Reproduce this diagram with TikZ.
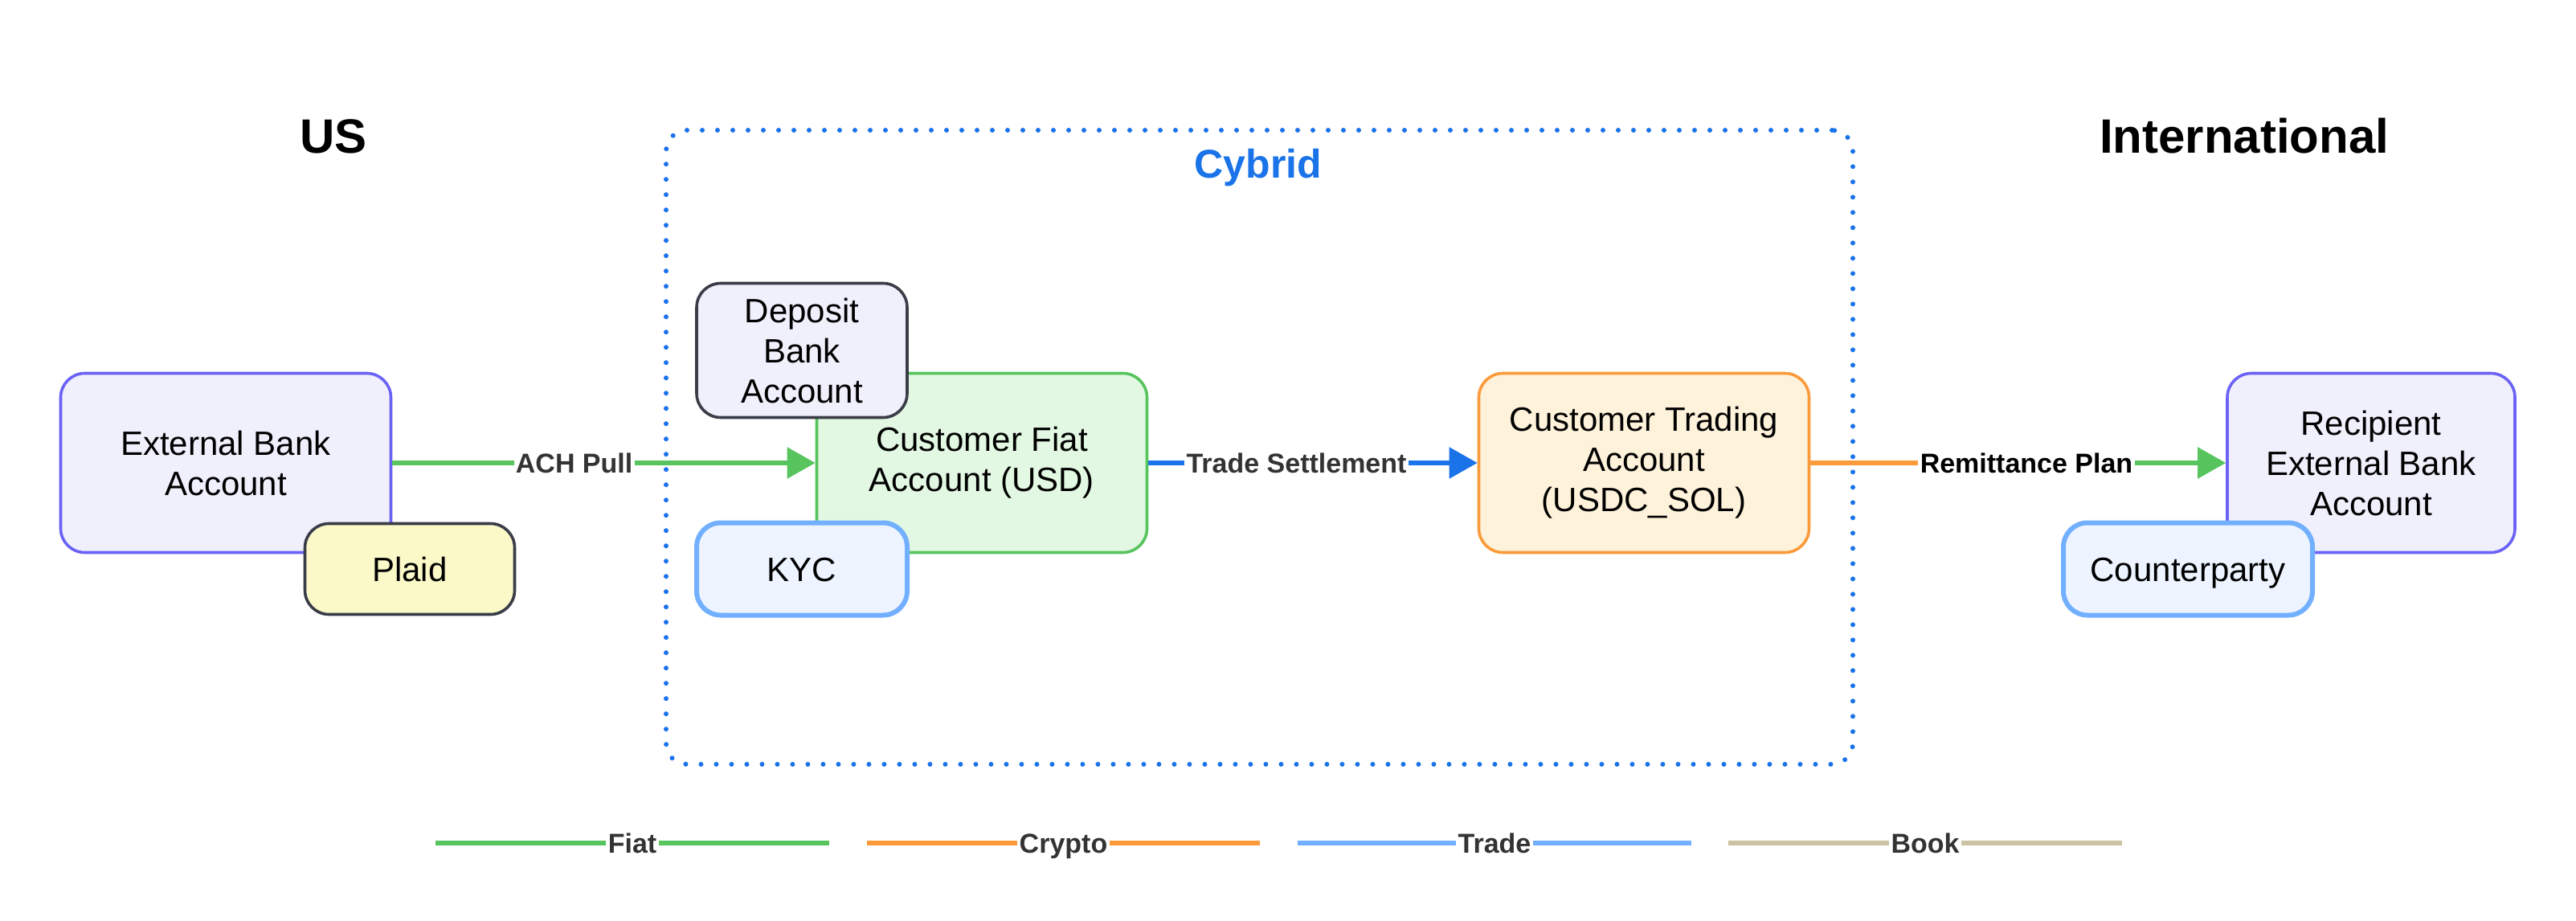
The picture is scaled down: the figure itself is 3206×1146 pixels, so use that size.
\documentclass[tikz,border=0pt]{standalone}
\usepackage{fontspec}
\setmainfont{Liberation Sans}
\usetikzlibrary{arrows.meta,calc}
\definecolor{lav}{HTML}{F0F0FD}
\definecolor{lavb}{HTML}{6B63F5}
\definecolor{dkb}{HTML}{3A3D47}
\definecolor{yel}{HTML}{FBF9C8}
\definecolor{grf}{HTML}{E2F8E2}
\definecolor{grb}{HTML}{57C45E}
\definecolor{blf}{HTML}{EDF4FF}
\definecolor{blb}{HTML}{72B0FF}
\definecolor{orf}{HTML}{FEF2DA}
\definecolor{orb}{HTML}{FB9A3A}
\definecolor{cyb}{HTML}{1A73E8}
\definecolor{bookc}{HTML}{CBC3A3}
\definecolor{lbl}{HTML}{333333}
\begin{document}
\begin{tikzpicture}[x=0.25pt,y=-0.25pt,
  box/.style={draw, rounded corners=7.5pt, line width=0.9pt, align=center, inner sep=0pt,
    font=\fontsize{10.5}{12.5}\selectfont, text=black},
  onebox/.style={box, text height=7.5pt, text depth=0pt},
  bigbox/.style={box, minimum width=102.75pt, minimum height=55.75pt},
  title/.style={font=\bfseries\fontsize{15}{18}\selectfont, text=black, anchor=base, inner sep=0pt},
  elabel/.style={fill=white, inner sep=0.6pt, text height=6.1pt, text depth=0pt,
    font=\bfseries\fontsize{8.5}{10}\selectfont, text=lbl},
  conn/.style={line width=1.35pt},
  tip/.style={-{Triangle[length=8.75pt,width=9.5pt]}},
  legline/.style={line width=1.5pt},
  leglabel/.style={inner sep=0.4pt, text height=6.1pt, text depth=0pt,
    font=\bfseries\fontsize{8.5}{10}\selectfont, text=lbl},
  cybbox/.style={draw=cyb, line width=1.5pt, line cap=round, dash pattern=on 0pt off 4.75pt,
    rounded corners=6.5pt, inner sep=0pt}
]
\useasboundingbox[fill=white] (0,0) rectangle (3206,1146);

% titles
\node[title] (us) at (415,190) {US};
\node[title] (intl) at (2793,190) {International};

% boxes
\node[bigbox, fill=lav, draw=lavb] (ext) at (281,576) {External Bank\\Account};
\node[onebox, fill=yel, draw=dkb, minimum width=65.25pt, minimum height=28.25pt] (plaid) at (510,708) {Plaid};

\node[bigbox, fill=grf, draw=grb] (fiat) at (1222,576) {Customer Fiat\\Account (USD)};
\node[box, fill=lav, draw=dkb, minimum width=65.5pt, minimum height=41.75pt] (deposit) at (998,436) {Deposit\\Bank\\Account};
\node[onebox, fill=blf, draw=blb, line width=1.5pt, minimum width=65.5pt, minimum height=28.75pt] (kyc) at (998,708) {KYC};

\node[bigbox, fill=orf, draw=orb] (trading) at (2046,576) {Customer Trading\\Account\\(USDC\_SOL)};

\node[box, fill=lav, draw=lavb, minimum width=89.5pt, minimum height=55.75pt] (recip) at (2951,576) {Recipient\\External Bank\\Account};
\node[onebox, fill=blf, draw=blb, line width=1.5pt, minimum width=77.5pt, minimum height=28.75pt] (counter) at (2723,708) {Counterparty};

% connectors
\draw[conn, grb, tip] (ext.east) -- node[elabel, pos=0.43] (ach) {ACH Pull} (fiat.west);
\draw[conn, cyb, tip] (fiat.east) -- node[elabel, pos=0.45] (ts) {Trade Settlement} (trading.west);
\node[elabel, text=black] (rp) at (2522,576) {Remittance Plan};
\draw[conn, orb] (trading.east) -- (rp.west);
\draw[conn, grb, tip] (rp.east) -- (recip.west);

% Cybrid boundary
\node[cybbox, minimum width=369.25pt, minimum height=197.25pt] (cybridbox) at (1567.5,556.5) {};
\node[font=\bfseries\fontsize{12.5}{15}\selectfont, text=cyb, anchor=base, inner sep=0pt] (cybrid) at (1566,221) {Cybrid};

% legend
\coordinate (fa) at (542,1049); \coordinate (fb) at (1032,1049);
\coordinate (ca) at (1079,1049); \coordinate (cb) at (1568,1049);
\coordinate (ta) at (1615,1049); \coordinate (tb) at (2105,1049);
\coordinate (ba) at (2151,1049); \coordinate (bb) at (2641,1049);
\node[leglabel] (lfiat) at ($(fa)!0.5!(fb)$) {Fiat};
\node[leglabel] (lcrypto) at ($(ca)!0.5!(cb)$) {Crypto};
\node[leglabel] (ltrade) at ($(ta)!0.5!(tb)$) {Trade};
\node[leglabel] (lbook) at ($(ba)!0.5!(bb)$) {Book};
\draw[legline, grb] (fa) -- (lfiat.west) (lfiat.east) -- (fb);
\draw[legline, orb] (ca) -- (lcrypto.west) (lcrypto.east) -- (cb);
\draw[legline, blb] (ta) -- (ltrade.west) (ltrade.east) -- (tb);
\draw[legline, bookc] (ba) -- (lbook.west) (lbook.east) -- (bb);
\end{tikzpicture}
\end{document}
